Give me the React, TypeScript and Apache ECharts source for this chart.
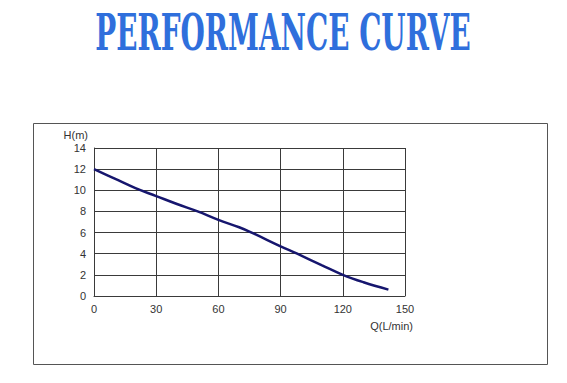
import React, { useEffect, useRef } from "react";
import * as echarts from "echarts";

const titleText = "PERFORMANCE CURVE";
const xAxisName = "Q(L/min)";
const yAxisName = "H(m)";
const flowQ = [0, 10, 20, 30, 40, 50, 60, 70, 76, 90, 98, 110, 120, 130, 142];
const headH = [12, 11.1, 10.2, 9.45, 8.7, 8.0, 7.2, 6.5, 6.0, 4.7, 4.0, 2.9, 2.0, 1.3, 0.6];

export default function App() {
  const ref = useRef<HTMLDivElement>(null);
  useEffect(() => {
    const chart = echarts.init(ref.current!, null, { renderer: "svg" });
    const gridColor = "#3a3a3a";
    chart.setOption({
      animation: false,
      backgroundColor: "#ffffff",
      graphic: [
        {
          type: "rect",
          shape: { x: 33.5, y: 123.5, width: 514, height: 241 },
          style: { fill: "none", stroke: "#555", lineWidth: 1 },
          z: -1,
        },
        {
          type: "text",
          x: 283,
          y: 32,
          scaleX: 0.775,
          scaleY: 1.28,
          style: {
            text: titleText,
            fontFamily: "DejaVu Serif Condensed",
            fontWeight: "bold",
            fontSize: 40,
            fill: "#2f6fdc",
            align: "center",
            verticalAlign: "middle",
          },
        },
      ],
      grid: { left: 94, right: 162, top: 148, bottom: 87 },
      xAxis: {
        type: "value",
        min: 0,
        max: 150,
        interval: 30,
        name: xAxisName,
        nameLocation: "end",
        nameGap: 8,
        nameTextStyle: {
          color: "#333",
          fontFamily: "Liberation Sans",
          fontSize: 11,
          align: "right",
          verticalAlign: "top",
          padding: [24, 0, 0, 0],
        },
        axisLine: { show: true, lineStyle: { color: gridColor, width: 1 } },
        axisTick: { show: false },
        axisLabel: { color: "#333", fontFamily: "Liberation Sans", fontSize: 11, margin: 7 },
        splitLine: { show: true, lineStyle: { color: gridColor, width: 1 } },
      },
      yAxis: {
        type: "value",
        min: 0,
        max: 14,
        interval: 2,
        name: yAxisName,
        nameLocation: "end",
        nameGap: 8,
        nameTextStyle: {
          color: "#333",
          fontFamily: "Liberation Sans",
          fontSize: 11,
          align: "right",
          padding: [0, 6, 0, 0],
        },
        axisLine: { show: true, lineStyle: { color: gridColor, width: 1 } },
        axisTick: { show: false },
        axisLabel: { color: "#333", fontFamily: "Liberation Sans", fontSize: 11, margin: 8 },
        splitLine: { show: true, lineStyle: { color: gridColor, width: 1 } },
      },
      series: [
        {
          type: "line",
          data: flowQ.map((q, i) => [q, headH[i]]),
          smooth: 0.4,
          showSymbol: false,
          lineStyle: { color: "#16166e", width: 2.5 },
        },
      ],
    });
    return () => chart.dispose();
  }, []);
  return (
    <div
      ref={ref}
      style={{ position: "fixed", left: 0, top: 0, width: 567, height: 383 }}
    />
  );
}
